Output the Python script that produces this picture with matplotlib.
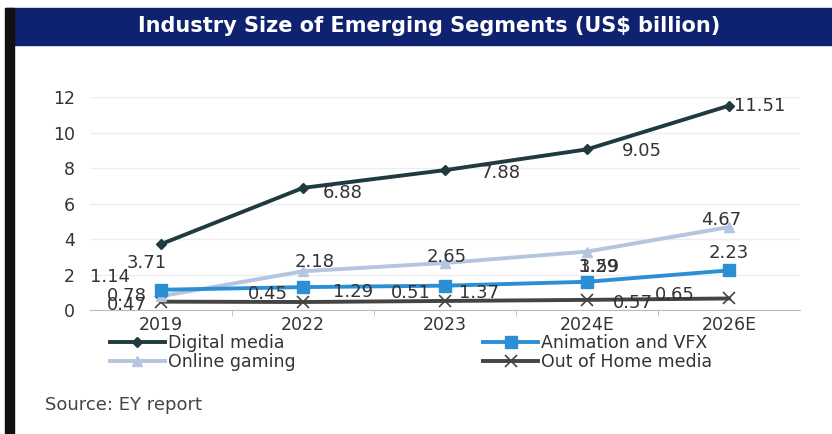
import matplotlib
matplotlib.use('Agg')
import matplotlib.pyplot as plt
from matplotlib.patches import Rectangle

plt.rcParams['font.family'] = ['DejaVu Sans']

years = ['2019', '2022', '2023', '2024E', '2026E']
digital_media = [3.71, 6.88, 7.88, 9.05, 11.51]
animation_vfx = [1.14, 1.29, 1.37, 1.59, 2.23]
online_gaming = [0.78, 2.18, 2.65, 3.29, 4.67]
ooh_media = [0.47, 0.45, 0.51, 0.57, 0.65]

# label offsets in pixels for each series, one per year
dm_off = [(-14, -19), (40, -5), (56, -3), (55, -2), (31, 0)]
og_off = [(-34, 0), (12, 9), (2, 6), (12, -15), (-8, 7)]
an_off = [(-51, 13), (50, -5), (34, -7), (12, 15), (0, 17)]
oh_off = [(-34, -3), (-35, 8), (-34, 8), (46, -3), (-54, 3)]

W, H = 832, 434
fig = plt.figure(figsize=(W / 100, H / 100), dpi=100)

# title band and left border
fig.patches.append(Rectangle((6 / W, 1 - 45 / H), 1, 37 / H, transform=fig.transFigure,
                             color='#0e2270', zorder=0))
fig.patches.append(Rectangle((5 / W, 0), 9 / W, 1 - 8 / H, transform=fig.transFigure,
                             color='#111111', zorder=1))
fig.text(429 / W, 1 - 26 / H, 'Industry Size of Emerging Segments (US$ billion)',
         color='white', fontsize=15, fontweight='bold', ha='center', va='center')

ax = fig.add_axes([90 / W, 1 - 310 / H, 710 / W, 213 / H])
x = list(range(len(years)))

ax.plot(x, digital_media, color='#1f3b3e', lw=2.8, marker='D', ms=5, label='Digital media', zorder=5)
ax.plot(x, online_gaming, color='#b3c5df', lw=2.8, marker='^', ms=7, label='Online gaming', zorder=3)
ax.plot(x, animation_vfx, color='#2b8fd4', lw=2.8, marker='s', ms=9, label='Animation and VFX', zorder=4)
ax.plot(x, ooh_media, color='#444444', lw=2.8, marker='x', ms=9, mew=1.2, label='Out of Home media', zorder=2)

for vals, offs in [(digital_media, dm_off), (online_gaming, og_off),
                   (animation_vfx, an_off), (ooh_media, oh_off)]:
    for i, v in enumerate(vals):
        ax.annotate(f'{v:.2f}', (i, v), xytext=offs[i], textcoords='offset pixels',
                    ha='center', va='center', fontsize=13, color='#333333', zorder=6)

ax.set_xlim(-0.5, 4.5)
ax.set_ylim(0, 12)
ax.set_yticks(range(0, 13, 2))
ax.set_xticks(x)
ax.set_xticklabels(years)
ax.set_xticks([0.5, 1.5, 2.5, 3.5], minor=True)
ax.tick_params(axis='x', which='major', length=0, pad=4, labelsize=12.5, labelcolor='#333333')
ax.tick_params(axis='x', which='minor', length=4, color='#bbbbbb')
ax.tick_params(axis='y', length=0, pad=11, labelsize=12.5, labelcolor='#333333')
ax.grid(axis='y', color='#eeeeee', lw=1)
ax.set_axisbelow(True)
for s in ['top', 'right', 'left']:
    ax.spines[s].set_visible(False)
ax.spines['bottom'].set_color('#bbbbbb')

handles, labels = ax.get_legend_handles_labels()
fig.legend(handles, labels, ncol=2, loc='upper left', bbox_to_anchor=(94 / W, 1 - 318 / H),
           frameon=False, fontsize=12.5, handlelength=3.2, handletextpad=0.15,
           columnspacing=10.8, labelspacing=0.1, labelcolor='#333333')

fig.text(45 / W, 1 - 405 / H, 'Source: EY report', fontsize=13, color='#444444', va='center')

fig.savefig('out.png', dpi=100, facecolor='white')
